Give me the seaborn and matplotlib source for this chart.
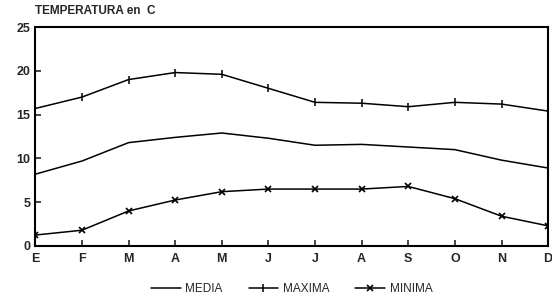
import numpy as np
import pandas as pd
import matplotlib
matplotlib.use("Agg")
import matplotlib.pyplot as plt
import seaborn as sns

sns.set_style("ticks")
plt.rcParams["font.family"] = ["Liberation Sans", "DejaVu Sans"]

meses = ["E", "F", "M", "A", "M", "J", "J", "A", "S", "O", "N", "D"]
media = [8.2, 9.7, 11.8, 12.4, 12.9, 12.3, 11.5, 11.6, 11.3, 11.0, 9.8, 8.9]
maxima = [15.7, 17.0, 19.0, 19.8, 19.6, 18.0, 16.4, 16.3, 15.9, 16.4, 16.2, 15.4]
minima = [1.25, 1.8, 4.0, 5.25, 6.2, 6.5, 6.5, 6.5, 6.8, 5.4, 3.4, 2.3]

n = len(meses)
x = list(range(n))

fig = plt.figure(figsize=(5.52, 3.0), dpi=100)
ax = fig.add_axes([0.064, 0.18, 0.929, 0.73])

sns.lineplot(x=x, y=media, color="black", linewidth=1.1, label="MEDIA", ax=ax)
sns.lineplot(x=x, y=maxima, color="black", linewidth=1.1, marker="|",
             markersize=5.5, markeredgewidth=1.1, markeredgecolor="black",
             label="MAXIMA", ax=ax)
sns.lineplot(x=x, y=minima, color="black", linewidth=1.1, marker="x",
             markersize=3.8, markeredgewidth=1.2, markeredgecolor="black",
             label="MINIMA", ax=ax)

ax.set_xlim(0, n - 1)
ax.set_ylim(0, 25)
ax.set_xticks(x)
ax.set_xticklabels(meses)
ax.set_yticks([0, 5, 10, 15, 20, 25])
ax.tick_params(axis="both", direction="in", length=4, width=1.2, labelsize=9)
ax.tick_params(axis="x", pad=5)
for lab in ax.get_xticklabels() + ax.get_yticklabels():
    lab.set_fontweight("bold")
for s in ax.spines.values():
    s.set_linewidth(1.5)
    s.set_color("black")

fig.text(0.064, 0.945, "TEMPERATURA en  C", fontsize=8.5, fontweight="bold",
         ha="left", va="bottom")

ax.legend(loc="upper center", bbox_to_anchor=(0.5, -0.12), ncol=3,
          frameon=False, fontsize=8.5, handlelength=2.5, columnspacing=2.2,
          handletextpad=0.4)

fig.savefig("out.png", dpi=100)
